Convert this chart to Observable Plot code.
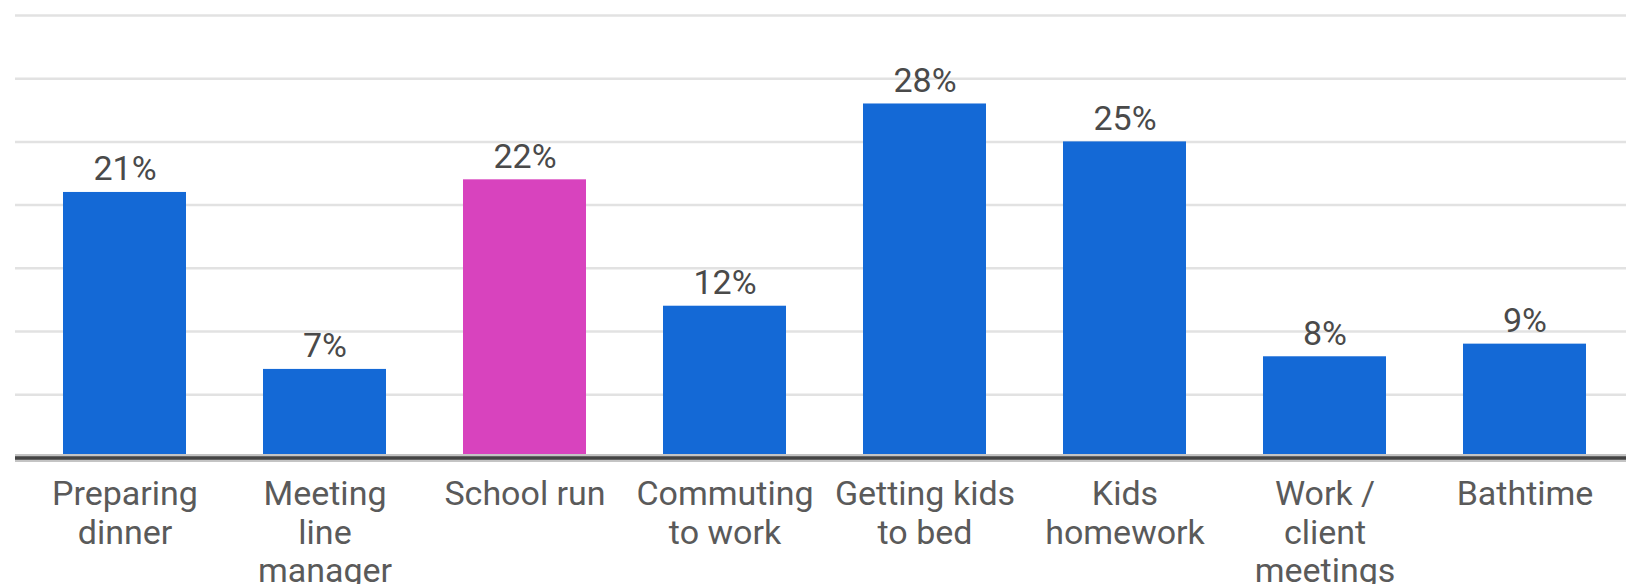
<!DOCTYPE html>
<html>
<head>
<meta charset="utf-8">
<script src="https://cdn.jsdelivr.net/npm/d3@7"></script>
<script src="https://cdn.jsdelivr.net/npm/@observablehq/plot@0.6"></script>
<style>
  html, body { margin: 0; padding: 0; background: #fff; }
  #chart svg { display: block; font-family: Roboto, "Noto Sans", sans-serif; }
</style>
</head>
<body>
<div id="chart"></div>
<script>
const categories = ["Preparing dinner", "Meeting line manager", "School run", "Commuting to work", "Getting kids to bed", "Kids homework", "Work / client meetings", "Bathtime"];
const values = [21, 7, 22, 12, 28, 25, 8, 9];
const tickLabels = ["Preparing\ndinner", "Meeting\nline\nmanager", "School run", "Commuting\nto work", "Getting kids\nto bed", "Kids\nhomework", "Work /\nclient\nmeetings", "Bathtime"];
const gridTicks = [5, 10, 15, 20, 25, 30, 35];
const highlighted = "School run";

const data = categories.map((c, i) => ({category: c, value: values[i]}));

const chart = Plot.plot({
  width: 1626,
  height: 584,
  marginTop: 15,
  marginBottom: 126.6,
  marginLeft: 15,
  marginRight: 0,
  style: {fontFamily: "Roboto, 'Noto Sans', sans-serif", background: "#fff"},
  x: {domain: categories, paddingInner: 0.385, paddingOuter: 0.206, align: 0.55, label: null},
  y: {domain: [0, 35], axis: null},
  marks: [
    Plot.ruleY(gridTicks, {stroke: "#e2e2e2", strokeWidth: 2.5}),
    Plot.barY(data, {x: "category", y: "value", fill: d => d.category === highlighted ? "#d843be" : "#1469d6"}),
    Plot.ruleY([0], {stroke: "#c4c4c4", strokeWidth: 8}),
    Plot.ruleY([0], {stroke: "#444", strokeWidth: 3.5}),
    Plot.text(data, {x: "category", y: "value", text: d => d.value + "%", lineAnchor: "bottom", dy: -12, fontSize: 34, fill: "#4a4a4a"}),
    Plot.axisX({tickSize: 0, tickPadding: 20, fontSize: 34, lineHeight: 1.13, color: "#5a5a5a", label: null,
      tickFormat: c => tickLabels[categories.indexOf(c)]})
  ]
});
document.getElementById("chart").appendChild(chart);
</script>
</body>
</html>
